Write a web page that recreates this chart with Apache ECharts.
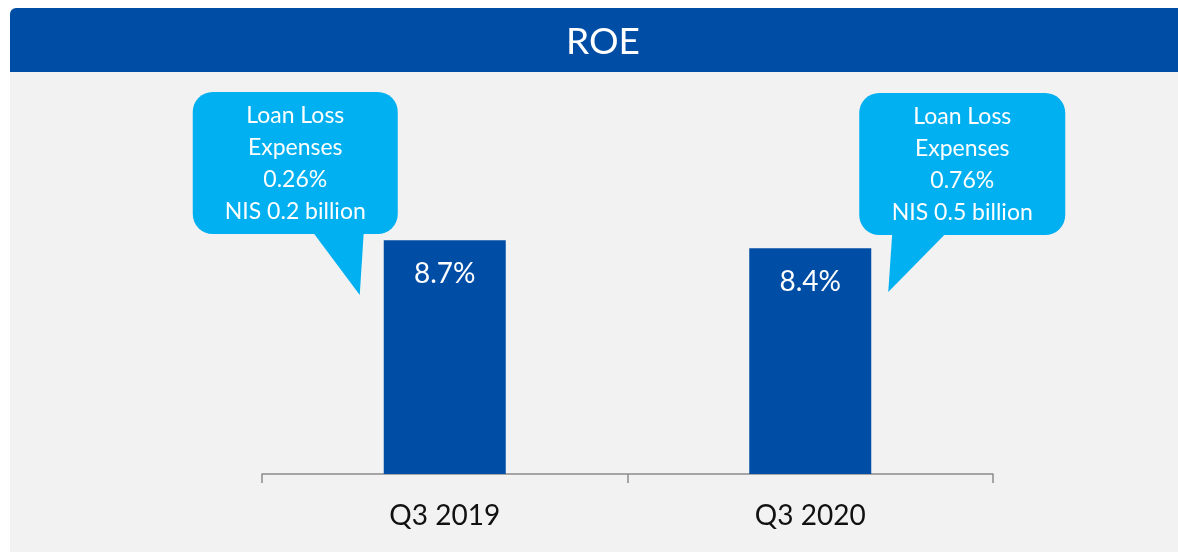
<!DOCTYPE html>
<html>
<head>
<meta charset="utf-8">
<script src="https://cdn.jsdelivr.net/npm/echarts@6/dist/echarts.min.js"></script>
<style>html,body{margin:0;padding:0;background:#fff;}#c{width:1178px;height:552px;}</style>
</head>
<body>
<div id="c"></div>
<script>
const categories = ['Q3 2019', 'Q3 2020'];
const roeValues = [8.7, 8.4];
const calloutTexts = [
  ['Loan Loss', 'Expenses', '0.26%', 'NIS 0.2 billion'],
  ['Loan Loss', 'Expenses', '0.76%', 'NIS 0.5 billion']
];
const titleText = 'ROE';

const FONT = 'Lato, "Noto Sans", sans-serif';
const chart = echarts.init(document.getElementById('c'), null, {renderer: 'canvas'});

const baseGraphics = [
  {type: 'rect', z: -10, shape: {x: 10, y: 72, width: 1168, height: 480}, style: {fill: '#f2f2f2'}, silent: true},
  {type: 'rect', z: -10, shape: {x: 10, y: 8, width: 1180, height: 64, r: [6, 0, 0, 0]}, style: {fill: '#004da6'}, silent: true},
  {type: 'text', z: 10, x: 603, y: 42, style: {text: titleText, fill: '#ffffff', font: '37px ' + FONT, align: 'center', verticalAlign: 'middle'}, silent: true}
];

chart.setOption({
  animation: false,
  backgroundColor: '#ffffff',
  grid: {left: 262, right: 185, top: 71, bottom: 78},
  xAxis: {
    type: 'category',
    data: categories,
    boundaryGap: true,
    axisLine: {lineStyle: {color: '#8c8c8c', width: 1.5}},
    axisTick: {show: true, length: 9, lineStyle: {color: '#8c8c8c', width: 1.5}},
    axisLabel: {color: '#111111', fontSize: 28, fontFamily: FONT, margin: 28}
  },
  yAxis: {type: 'value', min: 0, max: 15, show: false, splitLine: {show: false}},
  series: [{
    type: 'bar',
    data: roeValues,
    barWidth: 122,
    itemStyle: {color: '#004da6'},
    label: {
      show: true, position: 'insideTop', distance: 20,
      formatter: p => p.value.toFixed(1) + '%',
      color: '#ffffff', fontSize: 28, fontFamily: FONT
    }
  }],
  graphic: baseGraphics
});

// callouts placed relative to the bars
const cfg = [
  {boxL: -252, boxR: -47, top: 92, bottom: 234, base1: -132, base2: -81, tipX: -85, tipY: 295},
  {boxL: 49, boxR: 255, top: 93, bottom: 235, base1: 82, base2: 136, tipX: 78, tipY: 292}
];
const extra = [];
categories.forEach((c, i) => {
  const p = chart.convertToPixel({xAxisIndex: 0, yAxisIndex: 0}, [i, roeValues[i]]);
  const cx = p[0];
  const k = cfg[i];
  const L = cx + k.boxL, R = cx + k.boxR;
  extra.push({type: 'rect', z: 5, shape: {x: L, y: k.top, width: R - L, height: k.bottom - k.top, r: 20}, style: {fill: '#00b0f0'}, silent: true});
  extra.push({type: 'polygon', z: 5, shape: {points: [[cx + k.base1, k.bottom - 2], [cx + k.base2, k.bottom - 2], [cx + k.tipX, k.tipY]]}, style: {fill: '#00b0f0'}, silent: true});
  extra.push({type: 'text', z: 6, x: (L + R) / 2, y: (k.top + k.bottom) / 2 + 1,
    style: {text: calloutTexts[i].join('\n'), fill: '#ffffff', font: '23px ' + FONT, lineHeight: 32, align: 'center', verticalAlign: 'middle'}, silent: true});
});
chart.setOption({graphic: baseGraphics.concat(extra)}, {replaceMerge: ['graphic']});
</script>
</body>
</html>
